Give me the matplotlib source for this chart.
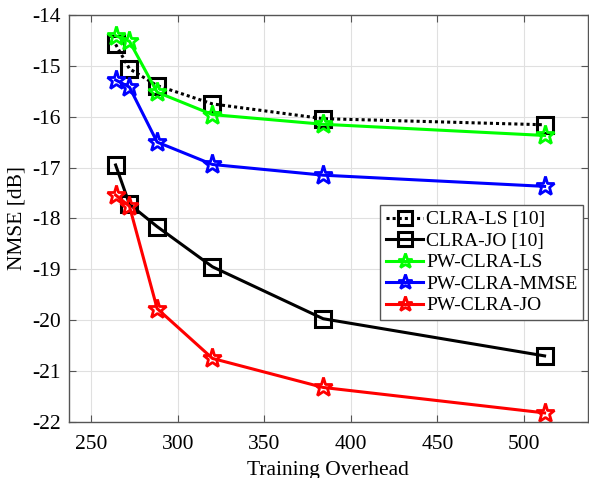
import matplotlib
matplotlib.use("Agg")
import matplotlib.pyplot as plt

plt.rcParams['font.family'] = ['Liberation Serif', 'DejaVu Serif']
plt.rcParams['mathtext.fontset'] = 'stix'

x = [264, 272, 288, 320, 384, 512]
clra_ls = [-14.58, -15.06, -15.39, -15.75, -16.04, -16.16]
clra_jo = [-16.95, -17.72, -18.16, -18.95, -19.97, -20.70]
pw_ls = [-14.41, -14.52, -15.52, -15.96, -16.15, -16.37]
pw_mmse = [-15.28, -15.42, -16.50, -16.94, -17.15, -17.37]
pw_jo = [-17.54, -17.76, -19.77, -20.75, -21.32, -21.82]

labels = ['CLRA-LS [10]', 'CLRA-JO [10]', 'PW-CLRA-LS', 'PW-CLRA-MMSE', 'PW-CLRA-JO']
xticks = [250, 300, 350, 400, 450, 500]
yticks = [-22, -21, -20, -19, -18, -17, -16, -15, -14]

fig = plt.figure(figsize=(5.89, 4.78), dpi=100)
ax = fig.add_axes([0.117, 0.117, 0.881, 0.852])

lw = 2.2
ax.plot(x, clra_ls, linestyle=(0, (1, 1)), color='k', lw=lw, marker='s', ms=12,
        mfc='none', mec='k', mew=2.2, label=labels[0])
ax.plot(x, clra_jo, linestyle='-', color='k', lw=lw, marker='s', ms=12,
        mfc='none', mec='k', mew=2.2, label=labels[1])
ax.plot(x, pw_ls, linestyle='-', color='#00ff00', lw=lw, marker='*', ms=14,
        mfc='none', mec='#00ff00', mew=2.0, label=labels[2])
ax.plot(x, pw_mmse, linestyle='-', color='#0000ff', lw=lw, marker='*', ms=14,
        mfc='none', mec='#0000ff', mew=2.0, label=labels[3])
ax.plot(x, pw_jo, linestyle='-', color='#ff0000', lw=lw, marker='*', ms=14,
        mfc='none', mec='#ff0000', mew=2.0, label=labels[4])

ax.set_xlim(237, 537)
ax.set_ylim(-22, -14)
ax.set_xticks(xticks)
ax.set_yticks(yticks)
ax.set_yticklabels([str(v) for v in yticks])
ax.tick_params(axis='both', direction='in', labelsize=15.5, top=True, right=True,
               color='#555555', length=5)
ax.tick_params(axis='x', pad=9)
ax.tick_params(axis='y', pad=6)
ax.grid(True, color='#e0e0e0', linewidth=0.8)
for s in ax.spines.values():
    s.set_color('#555555')
    s.set_linewidth(1.0)

ax.set_xlabel('Training Overhead', fontsize=15.5, labelpad=5)
ax.set_ylabel('NMSE [dB]', fontsize=15.5, labelpad=4)

leg = ax.legend(loc='upper left', bbox_to_anchor=(0.6, 0.533), fontsize=14,
                frameon=True, fancybox=False, edgecolor='#555555', framealpha=1,
                handlelength=1.9, handletextpad=0.15, borderpad=0.3,
                labelspacing=0.2, borderaxespad=0, markerscale=0.8)
leg.get_frame().set_linewidth(1.0)

fig.savefig('out.png', dpi=100)
